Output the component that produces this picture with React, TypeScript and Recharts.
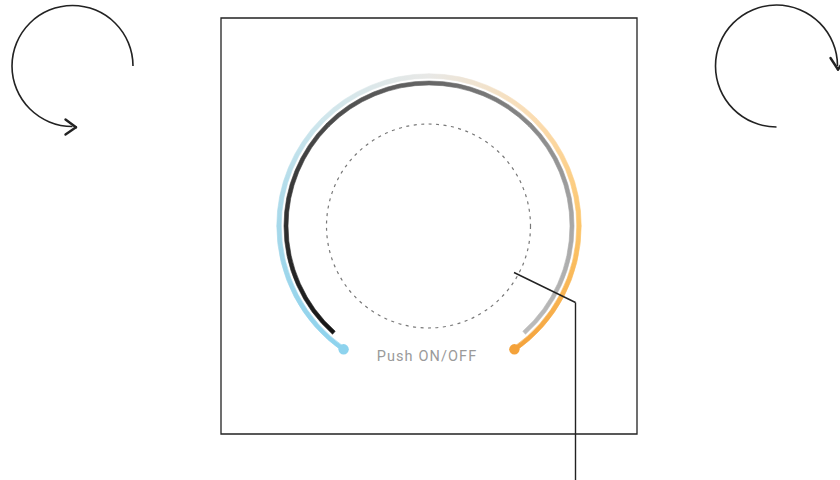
import React from "react";
import {
  PieChart,
  Pie,
  Cell,
  ComposedChart,
  XAxis,
  YAxis,
  ReferenceLine,
  ReferenceArea,
  ReferenceDot,
} from "recharts";

const W = 840;
const H = 480;
const CX = 429;
const CY = 226;

// colour ring (outer) and knob ring (inner): stop angles, degrees, counter-clockwise from 3 o'clock
const ringStops = [235.3, 180, 135, 90, 45, 0, -55.3];
const knobStops = [228.3, 180, 135, 90, 45, 0, -48.3];
const rotationSweep = [270];
const panelBox = [221, 18, 637, 434];
const leaderPath = [
  { x: 514, y: 272.5 },
  { x: 575.5, y: 302.5 },
  { x: 575.5, y: 482 },
];
const ccwHead = [
  { x: 65.5, y: 119.5 },
  { x: 76, y: 127.3 },
  { x: 65.5, y: 134.5 },
];
const cwHead = [
  { x: 830.5, y: 58 },
  { x: 838, y: 69.5 },
  { x: 845.5, y: 58 },
];
const caption = "Push ON/OFF";

const ringColors = ["#8dd3ee", "#a6d8ea", "#cfe6ec", "#e8e8e6", "#fbdcb0", "#fcc56a", "#f4a23a"];
const knobColors = ["#141414", "#303030", "#4a4a4a", "#666666", "#888888", "#a8a8a8", "#bcbcbc"];

const RING_R = 150;
const KNOB_R = 143;

function toSegments(stops: number[]) {
  return stops.slice(1).map((a, i) => ({ name: `s${i}`, span: stops[i] - a }));
}

function pt(r: number, deg: number) {
  const t = (deg * Math.PI) / 180;
  return { x: CX + r * Math.cos(t), y: CY - r * Math.sin(t) };
}

function gradients(id: string, stops: number[], colors: string[], r: number) {
  return stops.slice(1).map((a, i) => {
    const p0 = pt(r, stops[i]);
    const p1 = pt(r, a);
    return (
      <linearGradient
        key={`${id}${i}`}
        id={`${id}${i}`}
        gradientUnits="userSpaceOnUse"
        x1={p0.x}
        y1={p0.y}
        x2={p1.x}
        y2={p1.y}
      >
        <stop offset="0" stopColor={colors[i]} />
        <stop offset="1" stopColor={colors[i + 1]} />
      </linearGradient>
    );
  });
}

const ringSegments = toSegments(ringStops);
const knobSegments = toSegments(knobStops);
const rotationData = rotationSweep.map((span) => ({ name: "turn", span }));
const ringEnds = [
  { ...pt(RING_R, ringStops[0]), color: ringColors[0] },
  { ...pt(RING_R, ringStops[ringStops.length - 1]), color: ringColors[ringColors.length - 1] },
];

const layer: React.CSSProperties = { position: "absolute", left: 0, top: 0 };
const noMargin = { top: 0, right: 0, bottom: 0, left: 0 };

export default function App() {
  return (
    <div style={{ position: "absolute", left: 0, top: 0, width: W, height: H, background: "#fff" }}>
      <div style={layer}>
        <PieChart width={W} height={H} margin={noMargin}>
          <defs>
            {gradients("ring", ringStops, ringColors, RING_R)}
            {gradients("knob", knobStops, knobColors, KNOB_R)}
          </defs>
          <Pie
            data={ringSegments}
            dataKey="span"
            cx={CX}
            cy={CY}
            innerRadius={RING_R - 2.2}
            outerRadius={RING_R + 2.2}
            startAngle={ringStops[0]}
            endAngle={ringStops[ringStops.length - 1]}
            isAnimationActive={false}
            label={false}
            labelLine={false}
          >
            {ringSegments.map((s, i) => (
              <Cell key={s.name} fill={`url(#ring${i})`} stroke={`url(#ring${i})`} strokeWidth={0.6} />
            ))}
          </Pie>
          <Pie
            data={knobSegments}
            dataKey="span"
            cx={CX}
            cy={CY}
            innerRadius={KNOB_R - 2}
            outerRadius={KNOB_R + 2}
            startAngle={knobStops[0]}
            endAngle={knobStops[knobStops.length - 1]}
            isAnimationActive={false}
            label={false}
            labelLine={false}
          >
            {knobSegments.map((s, i) => (
              <Cell key={s.name} fill={`url(#knob${i})`} stroke={`url(#knob${i})`} strokeWidth={0.6} />
            ))}
          </Pie>
          <Pie
            data={rotationData}
            dataKey="span"
            cx={72.5}
            cy={66}
            innerRadius={59.7}
            outerRadius={61.3}
            startAngle={0}
            endAngle={rotationSweep[0]}
            fill="#222"
            stroke="none"
            isAnimationActive={false}
            label={false}
            labelLine={false}
          />
          <Pie
            data={rotationData}
            dataKey="span"
            cx={776.5}
            cy={66}
            innerRadius={60.2}
            outerRadius={61.8}
            startAngle={0}
            endAngle={rotationSweep[0]}
            fill="#222"
            stroke="none"
            isAnimationActive={false}
            label={false}
            labelLine={false}
          />
        </PieChart>
      </div>
      <div style={layer}>
        <ComposedChart width={W} height={H} margin={noMargin} data={[]}>
          <XAxis type="number" dataKey="x" domain={[0, W]} allowDataOverflow hide />
          <YAxis type="number" domain={[0, H]} allowDataOverflow reversed hide />
          <ReferenceArea
            x1={panelBox[0]}
            y1={panelBox[1]}
            x2={panelBox[2]}
            y2={panelBox[3]}
            fill="none"
            fillOpacity={0}
            stroke="#222"
            strokeWidth={1.3}
            ifOverflow="visible"
          />
          <ReferenceDot
            x={CX - 0.5}
            y={CY}
            r={102}
            fill="none"
            stroke="#777"
            strokeWidth={1.2}
            strokeDasharray="3 4.5"
            ifOverflow="visible"
          />
          {ringEnds.map((p, i) => (
            <ReferenceDot key={i} x={p.x} y={p.y} r={5.2} fill={p.color} stroke="none" ifOverflow="visible" />
          ))}
          {leaderPath.slice(1).map((p, i) => (
            <ReferenceLine
              key={`l${i}`}
              segment={[leaderPath[i], p]}
              stroke="#222"
              strokeWidth={1.4}
              ifOverflow="visible"
            />
          ))}
          {[ccwHead, cwHead].map((head, h) =>
            head.slice(1).map((p, i) => (
              <ReferenceLine
                key={`h${h}${i}`}
                segment={[head[i], p]}
                stroke="#222"
                strokeWidth={2.4}
                strokeLinecap="round"
                ifOverflow="visible"
              />
            ))
          )}
          <ReferenceDot
            x={427}
            y={355.5}
            r={0}
            fill="none"
            stroke="none"
            ifOverflow="visible"
            label={{
              value: caption,
              position: "center",
              fill: "#9a9a9a",
              fontSize: 14.5,
              fontFamily: "Roboto, 'DejaVu Sans', sans-serif",
              letterSpacing: 1.1,
            }}
          />
        </ComposedChart>
      </div>
    </div>
  );
}
